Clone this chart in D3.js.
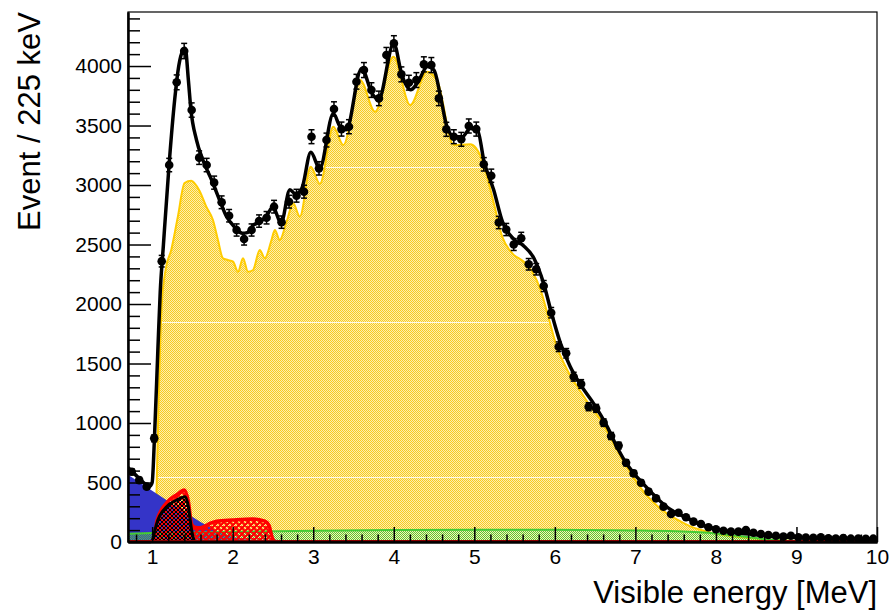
<!DOCTYPE html>
<html>
<head>
<meta charset="utf-8">
<script src="https://cdn.jsdelivr.net/npm/d3@7"></script>
<style>
body { margin: 0; background: #fff; }
text { font-family: "Liberation Sans", Arial, Helvetica, sans-serif; }
</style>
</head>
<body>
<div id="chart"></div>
<script>
// data histogram: 100 bins from 0.7 to 10 MeV
var bin_lo = 0.7, bin_hi = 10, n_bins = 100
var data_counts = [590, 520, 465, 871, 2360, 3168, 3863, 4126, 3630, 3230,
    3168, 3020, 2855, 2742, 2622, 2546, 2622, 2697, 2725, 2818,
    2688, 2860, 2910, 2944, 3406, 3140, 3378, 3639, 3470, 3490,
    3868, 3966, 3798, 3728, 4092, 4190, 3930, 3860, 3882, 4014,
    4008, 3728, 3468, 3406, 3384, 3496, 3470, 3174, 3078, 2685,
    2626, 2500, 2552, 2334, 2292, 2151, 1927, 1641, 1586, 1389,
    1328, 1137, 1123, 1003, 891, 810, 666, 577, 498, 423,
    367, 297, 235, 246, 208, 171, 151, 124, 107, 95,
    87, 87, 101, 78, 67, 59, 53, 45, 53, 40,
    38, 35, 40, 32, 30, 34, 28, 30, 26, 28]

// total fit
var fit_e = [0.70, 0.80, 0.90, 0.97, 1.00, 1.03, 1.07, 1.10, 1.14, 1.21, 1.28, 1.33, 1.38, 1.41, 1.45, 1.48,
    1.55, 1.63, 1.74, 1.84, 1.92, 2.02, 2.12, 2.18, 2.26, 2.34, 2.42, 2.50, 2.60, 2.71, 2.78, 2.86,
    2.97, 3.08, 3.25, 3.33, 3.41, 3.60, 3.73, 3.81, 4.00, 4.10, 4.21, 4.29, 4.42, 4.50, 4.58, 4.66,
    4.75, 4.85, 4.95, 5.04, 5.12, 5.24, 5.35, 5.49, 5.61, 5.74, 5.86, 5.96, 6.07, 6.19, 6.32, 6.48,
    6.65, 6.77, 6.86, 6.98, 7.11, 7.23, 7.36, 7.48, 7.65, 7.82, 8.02, 8.23, 8.44, 8.64, 9.06, 9.47, 10.0]
var fit_v = [625, 560, 495, 468, 500, 900, 1600, 2100, 2500, 3170, 3720, 4000, 4130, 4150, 3880, 3640,
    3380, 3210, 3040, 2870, 2740, 2650, 2595, 2600, 2665, 2690, 2740, 2815, 2680, 2960, 2925, 2975,
    3275, 3140, 3600, 3495, 3465, 3980, 3770, 3715, 4190, 3925, 3800, 3855, 3995, 3965, 3745, 3490,
    3405, 3405, 3475, 3460, 3200, 2960, 2690, 2545, 2490, 2385, 2175, 1920, 1670, 1475, 1320, 1165,
    970, 800, 690, 577, 480, 395, 311, 255, 199, 143, 107, 80, 65, 50, 36, 31, 25]

// reactor component (yellow)
var yel_e = [1.02, 1.05, 1.08, 1.12, 1.17, 1.237, 1.319, 1.402, 1.486, 1.589, 1.672, 1.755, 1.817, 1.879,
    1.941, 2.004, 2.066, 2.128, 2.190, 2.253, 2.336, 2.399, 2.482, 2.523, 2.585, 2.669, 2.751, 2.834,
    2.968, 3.083, 3.249, 3.374, 3.582, 3.768, 3.996, 4.204, 4.412, 4.537, 4.744, 4.951, 5.097, 5.242,
    5.346, 5.471, 5.615, 5.720, 5.823, 5.907, 6.010, 6.176, 6.321, 6.446, 6.570, 6.72, 6.82, 6.945,
    7.070, 7.194, 7.359, 7.526, 7.692, 7.817, 8.0, 8.3, 8.8, 9.4, 10.0]
var yel_v = [0, 300, 1200, 2000, 2300, 2454, 2734, 3017, 3036, 2950, 2818, 2706, 2538, 2384,
    2370, 2356, 2271, 2384, 2271, 2286, 2454, 2384, 2538, 2622, 2538, 2692, 2846, 2734,
    3154, 3010, 3490, 3336, 3882, 3616, 4078, 3672, 3952, 3882, 3336, 3342, 3210, 2846,
    2566, 2426, 2355, 2271, 2118, 1922, 1670, 1418, 1263, 1137, 1025, 840, 717, 577,
    451, 353, 255, 185, 129, 101, 70, 40, 15, 3, 0]

var blue_e = [0.7, 1.0, 1.3, 1.6, 1.8, 2.0, 2.2, 2.5]
var blue_v = [565, 430, 298, 168, 95, 45, 15, 0]

var green_e = [0.7, 1.0, 2.0, 3.0, 4.0, 5.0, 6.0, 7.0, 7.5, 8.0, 8.3, 8.6, 9.0, 9.5, 10.0]
var green_v = [70, 75, 85, 95, 100, 102, 102, 97, 90, 72, 50, 25, 8, 2, 0]

var red_e = [1.0, 1.03, 1.06, 1.18, 1.31, 1.40, 1.45, 1.49, 1.53, 1.60, 1.70, 1.80, 2.00, 2.25, 2.40, 2.45, 2.49, 2.52]
var red_v = [0, 60, 180, 330, 400, 437, 340, 150, 125, 120, 150, 175, 185, 193, 175, 140, 40, 0]

var blk_e = [1.0, 1.016, 1.057, 1.18, 1.306, 1.41, 1.45, 1.49, 1.51, 1.53]
var blk_v = [0, 45, 157, 297, 353, 381, 297, 100, 34, 0]

var mag_e = [0.7, 1.0, 2.5, 2.55]
var mag_v = [12, 18, 18, 0]

var y_ticks = [0, 500, 1000, 1500, 2000, 2500, 3000, 3500, 4000]
var x_ticks = [1, 2, 3, 4, 5, 6, 7, 8, 9, 10]

var W = 891, H = 615
var margin = {top: 12, right: 14, bottom: 73, left: 128}
var width = W - margin.left - margin.right
var height = H - margin.top - margin.bottom

var xScale = d3.scaleLinear().domain([bin_lo, bin_hi]).range([0, width])
var yScale = d3.scaleLinear().domain([0, 4454]).range([height, 0])

var zip = (es, vs) => es.map((e, i) => ({e: e, v: vs[i]}))
var bin_w = (bin_hi - bin_lo) / n_bins
var points = data_counts.map((c, i) => ({e: bin_lo + bin_w * (i + 0.5), v: c}))

var svg = d3.select("#chart")
    .append("svg")
        .attr("width", W)
        .attr("height", H)

var defs = svg.append("defs")

var py = defs.append("pattern").attr("id", "pat-yel")
    .attr("patternUnits", "userSpaceOnUse").attr("width", 2).attr("height", 2)
py.append("rect").attr("width", 2).attr("height", 2).attr("fill", "#fdeeb0")
py.append("rect").attr("width", 1).attr("height", 1).attr("fill", "#f8cc20")
py.append("rect").attr("x", 1).attr("y", 1).attr("width", 1).attr("height", 1).attr("fill", "#f8cc20")

var pg = defs.append("pattern").attr("id", "pat-green")
    .attr("patternUnits", "userSpaceOnUse").attr("width", 2).attr("height", 2)
pg.append("rect").attr("width", 1).attr("height", 1).attr("fill", "#55c83c")
pg.append("rect").attr("x", 1).attr("y", 1).attr("width", 1).attr("height", 1).attr("fill", "#55c83c")

var pr = defs.append("pattern").attr("id", "pat-red")
    .attr("patternUnits", "userSpaceOnUse").attr("width", 6).attr("height", 6)
pr.append("path").attr("d", "M0,0L6,6M6,0L0,6M-1,5L1,7M5,-1L7,1")
    .attr("stroke", "#ff0000").attr("stroke-width", 2)

var pb = defs.append("pattern").attr("id", "pat-blk")
    .attr("patternUnits", "userSpaceOnUse").attr("width", 4).attr("height", 4)
pb.append("path").attr("d", "M0,0L4,4M4,0L0,4")
    .attr("stroke", "#000").attr("stroke-width", 1)

defs.append("clipPath").attr("id", "clip")
    .append("rect").attr("width", width).attr("height", height)

var g = svg.append("g")
    .attr("transform", "translate(" + margin.left + "," + margin.top + ")")

var plot = g.append("g").attr("clip-path", "url(#clip)")

var area = c => d3.area().curve(c).x(d => xScale(d.e)).y0(yScale(0)).y1(d => yScale(d.v))
var line = c => d3.line().curve(c).x(d => xScale(d.e)).y(d => yScale(d.v))

// reactor
plot.append("path").datum(zip(yel_e, yel_v))
    .attr("d", area(d3.curveMonotoneX)).attr("fill", "url(#pat-yel)")

// pattern tile seams, like the original rendering
defs.append("clipPath").attr("id", "clip-yel")
    .append("path").datum(zip(yel_e, yel_v)).attr("d", area(d3.curveMonotoneX))
plot.append("g").attr("clip-path", "url(#clip-yel)")
    .selectAll("line").data([155, 310, 465]).enter().append("line")
    .attr("x1", 0).attr("x2", width).attr("y1", d => d + 0.5).attr("y2", d => d + 0.5)
    .attr("stroke", "#fff").attr("stroke-width", 1).attr("opacity", 0.85)

plot.append("path").datum(zip(yel_e, yel_v))
    .attr("d", line(d3.curveMonotoneX)).attr("fill", "none")
    .attr("stroke", "#ffcc00").attr("stroke-width", 2)

// blue
plot.append("path").datum(zip(blue_e, blue_v))
    .attr("d", area(d3.curveLinear)).attr("fill", "#3434c8")

// green
plot.append("path").datum(zip(green_e, green_v))
    .attr("d", area(d3.curveMonotoneX)).attr("fill", "url(#pat-green)")
plot.append("path").datum(zip(green_e, green_v))
    .attr("d", line(d3.curveMonotoneX)).attr("fill", "none")
    .attr("stroke", "#44cc33").attr("stroke-width", 2)

// small magenta one
plot.append("path").datum(zip(mag_e, mag_v))
    .attr("d", area(d3.curveStepAfter)).attr("fill", "#b0107a")

// red
plot.append("path").datum(zip(red_e, red_v))
    .attr("d", area(d3.curveMonotoneX)).attr("fill", "url(#pat-red)")
plot.append("path").datum(zip(red_e, red_v))
    .attr("d", line(d3.curveMonotoneX)).attr("fill", "none")
    .attr("stroke", "#ff0000").attr("stroke-width", 3.5).attr("stroke-linejoin", "round")

// black component
plot.append("path").datum(zip(blk_e, blk_v))
    .attr("d", area(d3.curveMonotoneX)).attr("fill", "url(#pat-blk)")
plot.append("path").datum(zip(blk_e, blk_v))
    .attr("d", line(d3.curveMonotoneX)).attr("fill", "none")
    .attr("stroke", "#000").attr("stroke-width", 3).attr("stroke-linejoin", "round")

plot.append("line")
    .attr("x1", 0).attr("x2", width).attr("y1", height - 1).attr("y2", height - 1)
    .attr("stroke", "#8b0000").attr("stroke-width", 2)

// total fit
plot.append("path").datum(zip(fit_e, fit_v))
    .attr("d", line(d3.curveMonotoneX)).attr("fill", "none")
    .attr("stroke", "#000").attr("stroke-width", 3.5).attr("stroke-linejoin", "round")

// data points with errors
var err = d => Math.sqrt(d.v)
var pts = plot.selectAll(".pt").data(points).enter().append("g").attr("class", "pt")
pts.append("line")
    .attr("x1", d => xScale(d.e)).attr("x2", d => xScale(d.e))
    .attr("y1", d => yScale(d.v + err(d))).attr("y2", d => yScale(d.v - err(d)))
    .attr("stroke", "#000").attr("stroke-width", 1.5)
pts.append("line")
    .attr("x1", d => xScale(d.e) - 3).attr("x2", d => xScale(d.e) + 3)
    .attr("y1", d => yScale(d.v + err(d))).attr("y2", d => yScale(d.v + err(d)))
    .attr("stroke", "#000").attr("stroke-width", 1.5)
pts.append("line")
    .attr("x1", d => xScale(d.e) - 3).attr("x2", d => xScale(d.e) + 3)
    .attr("y1", d => yScale(d.v - err(d))).attr("y2", d => yScale(d.v - err(d)))
    .attr("stroke", "#000").attr("stroke-width", 1.5)
pts.append("circle")
    .attr("cx", d => xScale(d.e)).attr("cy", d => yScale(d.v))
    .attr("r", 4.3).attr("fill", "#000")

// frame
g.append("rect").attr("width", width).attr("height", height)
    .attr("fill", "none").attr("stroke", "#000").attr("stroke-width", 1.2)

// axes, ticks inside like ROOT
var xMinor = d3.range(8, 101, 2).map(d => d / 10).filter(d => d >= bin_lo && x_ticks.indexOf(d) < 0)
var yMinor = d3.range(100, 4454, 100).filter(d => d % 500 != 0)

g.append("g").attr("transform", "translate(0," + height + ")")
    .call(d3.axisBottom(xScale).tickValues(x_ticks).tickFormat(d3.format("d"))
        .tickSizeInner(-15).tickSizeOuter(0).tickPadding(7))
g.append("g").attr("transform", "translate(0," + height + ")")
    .call(d3.axisBottom(xScale).tickValues(xMinor).tickFormat("")
        .tickSizeInner(-7.5).tickSizeOuter(0))

g.append("g")
    .call(d3.axisLeft(yScale).tickValues(y_ticks).tickFormat(d3.format("d"))
        .tickSizeInner(-23).tickSizeOuter(0).tickPadding(6))
g.append("g")
    .call(d3.axisLeft(yScale).tickValues(yMinor).tickFormat("")
        .tickSizeInner(-12).tickSizeOuter(0))

g.selectAll(".tick line").attr("stroke", "#000").attr("stroke-width", 1.5)
g.selectAll(".domain").attr("stroke", "#000").attr("stroke-width", 2)
g.selectAll(".tick text").attr("font-size", 21).attr("fill", "#000")
    .style("font-family", '"Liberation Sans", Arial, sans-serif')

svg.append("text")
    .attr("x", margin.left + width).attr("y", 603)
    .attr("text-anchor", "end").attr("font-size", 31)
    .text("Visible energy [MeV]")

svg.append("text")
    .attr("transform", "translate(40," + margin.top + ") rotate(-90)")
    .attr("text-anchor", "end").attr("font-size", 31)
    .text("Event / 225 keV")
</script>
</body>
</html>
